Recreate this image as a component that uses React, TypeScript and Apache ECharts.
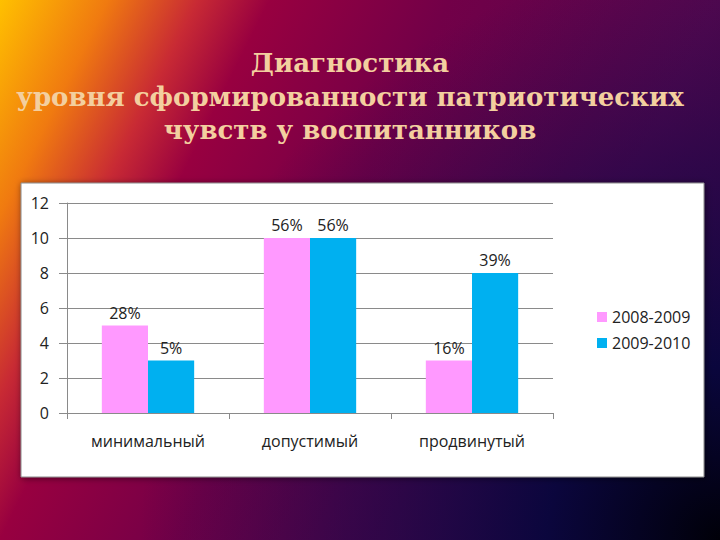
import React, { useEffect, useRef } from "react";
import * as echarts from "echarts";

const categories = ["минимальный", "допустимый", "продвинутый"];
const seriesNames = ["2008-2009", "2009-2010"];
const values2008 = [5, 10, 3];
const values2009 = [3, 10, 8];
const labels2008 = ["28%", "56%", "16%"];
const labels2009 = ["5%", "56%", "39%"];
const yTicks = [0, 2, 4, 6, 8, 10, 12];
const titleLines = [
  "Диагностика",
  "уровня сформированности патриотических",
  "чувств у воспитанников",
];

const PINK = "#ff99ff";
const BLUE = "#00b0f0";
const FONT = "'Open Sans', 'Noto Sans', sans-serif";

export default function App() {
  const ref = useRef<HTMLDivElement>(null);

  useEffect(() => {
    if (!ref.current) return;
    const chart = echarts.init(ref.current, undefined, { renderer: "svg" });

    const titleY = [63, 97, 130];

    chart.setOption({
      animation: false,
      graphic: [
        {
          type: "rect",
          z: -10,
          shape: { x: 0, y: 0, width: 720, height: 540 },
          style: {
            fill: {
              type: "linear",
              global: true,
              x: 0,
              y: 0,
              x2: 720,
              y2: 360,
              colorStops: [
                { offset: 0, color: "#ffc000" },
                { offset: 0.12, color: "#f07a10" },
                { offset: 0.22, color: "#c82a34" },
                { offset: 0.3, color: "#980040" },
                { offset: 0.5, color: "#720048" },
                { offset: 0.8, color: "#520850" },
                { offset: 1, color: "#3a0848" },
              ],
            },
          },
          silent: true,
        },
        {
          type: "rect",
          z: -9,
          shape: { x: 0, y: 0, width: 720, height: 540 },
          style: {
            fill: {
              type: "radial",
              global: true,
              x: 720,
              y: 540,
              r: 580,
              colorStops: [
                { offset: 0, color: "rgba(0,0,8,1)" },
                { offset: 0.3, color: "rgba(6,6,60,0.92)" },
                { offset: 0.65, color: "rgba(25,6,70,0.55)" },
                { offset: 1, color: "rgba(40,6,70,0)" },
              ],
            },
          },
          silent: true,
        },
        {
          type: "rect",
          z: -5,
          shape: { x: 21, y: 183, width: 683, height: 294 },
          style: {
            fill: "#ffffff",
            stroke: "#8a8a8a",
            lineWidth: 1,
            shadowBlur: 6,
            shadowColor: "rgba(0,0,0,0.5)",
            shadowOffsetX: 1,
            shadowOffsetY: 1,
          },
          silent: true,
        },
        ...titleLines.map((t, i) => ({
          type: "text",
          z: 10,
          x: 350,
          y: titleY[i],
          style: {
            text: t,
            align: "center",
            verticalAlign: "middle",
            fill: "#f3cf9f",
            font: "bold 26px 'DejaVu Serif', serif",
          },
          silent: true,
        })),
      ],
      grid: { left: 67, right: 167, top: 203, bottom: 127, containLabel: false },
      legend: {
        orient: "vertical",
        left: 592,
        top: 304,
        itemWidth: 10,
        itemHeight: 10,
        itemGap: 10,
        icon: "rect",
        data: seriesNames,
        textStyle: { fontFamily: FONT, fontSize: 16, color: "#222" },
      },
      xAxis: {
        type: "category",
        data: categories,
        axisLine: { lineStyle: { color: "#8a8a8a", width: 1 } },
        axisTick: { show: true, length: 6, lineStyle: { color: "#8a8a8a" } },
        axisLabel: { margin: 20, fontFamily: FONT, fontSize: 16, color: "#222" },
      },
      yAxis: {
        type: "value",
        min: yTicks[0],
        max: yTicks[yTicks.length - 1],
        interval: 2,
        axisLine: { show: true, lineStyle: { color: "#8a8a8a", width: 1 } },
        axisTick: { show: true, length: 8, lineStyle: { color: "#8a8a8a" } },
        splitLine: { lineStyle: { color: "#8a8a8a", width: 1 } },
        axisLabel: { margin: 18, fontFamily: FONT, fontSize: 16, color: "#222" },
      },
      series: [
        {
          name: seriesNames[0],
          type: "bar",
          data: values2008,
          barGap: "0%",
          barCategoryGap: "43%",
          itemStyle: { color: PINK },
          label: {
            show: true,
            position: "top",
            distance: 5,
            fontFamily: FONT,
            fontSize: 16,
            color: "#222",
            formatter: (p: any) => labels2008[p.dataIndex],
          },
        },
        {
          name: seriesNames[1],
          type: "bar",
          data: values2009,
          barGap: "0%",
          barCategoryGap: "43%",
          itemStyle: { color: BLUE },
          label: {
            show: true,
            position: "top",
            distance: 5,
            fontFamily: FONT,
            fontSize: 16,
            color: "#222",
            formatter: (p: any) => labels2009[p.dataIndex],
          },
        },
      ],
    });

    return () => chart.dispose();
  }, []);

  return (
    <div
      ref={ref}
      style={{ position: "absolute", left: 0, top: 0, width: 720, height: 540 }}
    />
  );
}
